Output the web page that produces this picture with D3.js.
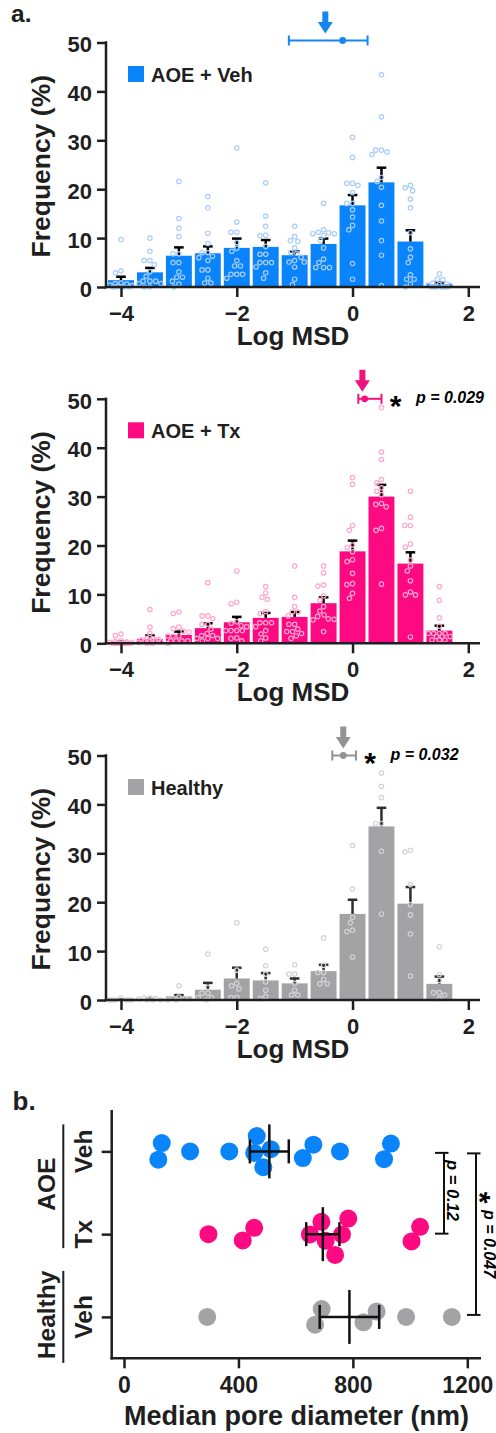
<!DOCTYPE html>
<html><head><meta charset="utf-8">
<script src="https://cdn.jsdelivr.net/npm/d3@7"></script>
<style>
html,body{margin:0;padding:0;background:#fff;}
svg{display:block;}
</style></head><body>
<svg id="chart" width="496" height="1433"></svg>
<script>
// ---------------- DATA ----------------
const binCenters = [-4,-3.5,-3,-2.5,-2,-1.5,-1,-0.5,0,0.5,1,1.5];
const xTicksA = [-4,-2,0,2];
const yTicksA = [0,10,20,30,40,50];
const seriesNames = ["AOE + Veh","AOE + Tx","Healthy"];

const vehMeans = [1.4,3.0,6.4,6.9,8.0,8.2,6.5,8.8,16.7,21.4,9.3,0.6];
const vehSem   = [0.7,0.9,1.7,1.4,1.9,1.4,0.8,1.1,2.1,3.0,2.3,0.3];
const vehDots = [
  [9.7,3.3,2.9,0.8,0.7,0.6,0.4,0.3,0.2,0,0,0,0,0],
  [10.0,7.3,5.4,5.4,4.6,3.1,2.2,1.2,1.2,1.2,0.7,0.7,0,0],
  [21.6,14.0,12.0,10.3,6.8,6.8,5.0,5.0,3.1,2.0,2.0,1.2,0.6,0],
  [18.5,16.2,11.0,8.9,7.0,7.0,6.3,6.0,5.4,3.5,3.5,1.8,0.8,0.8],
  [28.4,13.3,11.2,11.2,9.1,7.9,7.3,5.4,4.3,4.3,2.6,2.6,2.6,1.8],
  [21.3,14.5,12.4,10.6,10.5,8.3,6.7,6.7,5.0,5.0,5.0,4.1,2.9,1.8],
  [12.4,10.3,9.5,9.3,8.0,7.1,6.9,6.1,5.4,5.1,5.1,4.1,1.6,0.5],
  [17.1,11.7,11.2,11.1,10.9,10.9,10.5,9.5,8.0,5.7,5.0,4.0,4.0,4.0],
  [30.6,26.5,21.2,21.2,20.8,19.3,17.1,17.1,15.8,14.3,12.6,11.7,4.8,1.6],
  [43.4,34.8,28.0,28.0,27.6,27.1,22.4,21.6,20.4,16.7,13.5,9.5,6.5,0.3],
  [20.8,20.3,19.7,18.0,16.2,11.1,7.8,6.1,5.0,2.5,1.6,1.6,0.6,0],
  [2.7,1.6,1.5,0.8,0.6,0.5,0.4,0.3,0,0,0,0,0,0]
];

const txMeans = [0.2,0.9,1.7,3.1,4.3,5.2,5.4,8.2,18.8,30.0,16.3,2.6];
const txSem   = [0.15,0.7,0.7,1.0,1.1,1.0,1.0,1.2,2.2,2.4,2.3,1.0];
const txDots = [
  [1.9,1.6,0.5,0.4,0.3,0.2,0.1,0,0,0,0,0,0,0],
  [6.9,3.3,2.0,1.0,0.9,0.8,0.7,0.6,0.5,0.4,0.3,0.2,0,0],
  [6.4,6.1,3.3,3.0,2.5,2.3,1.5,1.5,1.5,0.5,0.5,0.5,0.5,0],
  [12.4,5.6,5.6,5.0,3.9,3.9,2.9,2.0,1.6,1.6,1.0,1.0,1.0,0.5],
  [14.8,8.4,8.1,4.4,4.1,3.6,3.4,2.6,2.6,2.6,2.6,1.1,1.0,0.5],
  [11.6,10.3,9.4,9.0,6.5,6.1,4.2,4.2,4.2,3.4,2.6,1.9,1.1,0.5],
  [15.8,9.4,7.5,6.4,6.4,5.6,3.9,3.9,2.9,2.4,2.4,2.0,1.5,1.0],
  [15.8,14.4,11.9,11.7,9.7,8.8,7.5,6.6,5.8,5.5,5.0,4.9,4.8,2.4],
  [33.9,32.5,24.1,23.1,20.1,19.6,18.7,17.1,16.7,14.3,12.2,12.0,10.2,9.2],
  [48.2,39.1,37.6,33.5,32.8,31.8,31.1,30.4,28.6,28.4,27.9,23.5,23.1,12.1],
  [31.1,25.8,24.1,24.1,20.3,19.7,17.0,15.8,14.8,12.8,10.5,9.9,9.9,1.3],
  [11.6,8.8,5.2,3.5,2.0,2.0,2.0,2.0,1.4,1.4,1.4,0.7,0.7,0.7]
];

const healthyMeans = [0.05,0.15,0.75,2.1,4.4,4.0,3.4,5.9,17.6,35.5,19.7,3.3];
const healthySem   = [0.05,0.1,0.25,1.4,2.2,1.5,1.0,1.3,2.9,3.8,3.4,1.5];
const healthyDots = [
  [0.4,0,0,0,0,0,0],
  [0.4,0.4,0.3,0.2,0,0,0],
  [2.9,0.6,0.4,0.3,0.3,0,0],
  [9.4,2.6,1.4,1.4,0.5,0.5,0],
  [15.8,6.1,3.4,2.9,2.3,0.5,0.5],
  [10.4,7.0,5.3,3.7,2.0,0.7,0.3],
  [7.2,5.3,5.3,3.4,2.0,1.0,1.0],
  [12.7,7.1,5.6,5.6,4.2,3.3,3.3],
  [31.6,22.7,16.9,15.8,14.3,14.0,8.8],
  [46.4,43.7,41.4,36.1,36.1,30.4,17.6],
  [30.6,30.3,23.6,19.5,17.4,13.5,4.9],
  [10.9,5.2,4.0,1.5,1.5,1.0,0.3]
];

// median log MSD markers (mean, low, high) and arrow positions
const markerMean = [-0.17, 0.21, -0.16];
const markerLow  = [-1.10, 0.10, -0.35];
const markerHigh = [0.26, 0.50, 0.06];
const arrowPos   = [-0.47, 0.17, -0.16];
const pLabelsA   = [null, "p = 0.029", "p = 0.032"];

// panel b
const bGroups = ["AOE","AOE","Healthy"];
const bTreatments = ["Veh","Tx","Veh"];
const bDots = [
  [120,132,231,368,455,464,487,513,625,662,755,909,933],
  [295,415,455,650,690,705,738,762,784,1005,1035],
  [291,668,691,837,883,986,1146]
];
const bMeans = [508,695,788];
const bSem = [68,58,104];
const xTicksB = [0,400,800,1200];
const bPLabels = ["p = 0.12","p = 0.047"];

// ---------------- STYLE ----------------
const FONT = '"Liberation Sans", Arial, Helvetica, sans-serif';
const INK = '#1f1f1f';
const barColors = ['#0a84fb','#fd0a83','#a3a3a6'];
const dotColors = ['#a8cdf8','#ffa6cf','#d3d3d5'];
const markColors = ['#1785f0','#f0117e','#939396'];
const errColors = ['#000','#000','#2d2d2d'];

const svg = d3.select('#chart').attr('font-family', FONT);

function swarm(pix, D, maxOff, center) {
  const n = pix.length;
  const order = d3.range(n).sort((a,b)=>pix[a]-pix[b]);
  const off = new Array(n).fill(0);
  const placed = [];
  for (const i of order) {
    const p = pix[i];
    const iv = [];
    for (const j of placed) {
      const d = Math.abs(pix[j]-p);
      if (d < D) { const w = Math.sqrt(D*D-d*d); iv.push([off[j]-w, off[j]+w]); }
    }
    const cands = [0];
    iv.forEach(([a,b]) => cands.push(a,b));
    const valid = cands.filter(c => Math.abs(c) <= maxOff+1e-6 &&
      iv.every(([a,b]) => c <= a+1e-6 || c >= b-1e-6));
    let best = 0;
    if (valid.length) {
      best = valid.sort((a,b)=>Math.abs(a)-Math.abs(b) || a-b)[0];
    } else {
      let bestScore = -1;
      for (let c=-maxOff; c<=maxOff+1e-6; c+=maxOff/4) {
        let m = Infinity;
        placed.forEach(j => { m = Math.min(m, Math.hypot(off[j]-c, pix[j]-p)); });
        if (m > bestScore) { bestScore = m; best = c; }
      }
    }
    off[i] = best; placed.push(i);
  }
  if (center) {
    const parent = d3.range(n);
    const find = k => parent[k]===k ? k : (parent[k]=find(parent[k]));
    for (let a=0;a<n;a++) for (let b=a+1;b<n;b++)
      if (Math.hypot(off[a]-off[b], pix[a]-pix[b]) < D+1) parent[find(a)] = find(b);
    const groups = d3.group(d3.range(n), k=>find(k));
    groups.forEach(ids => {
      const m = d3.mean(ids, k=>off[k]);
      ids.forEach(k => off[k] -= m);
    });
  }
  return off;
}

// ---------------- PANEL A ----------------
const xA = d3.scaleLinear().domain([-4,2]).range([121,468.3]);
const zeroYs = [287, 643.3, 1000];
const barW = xA(0.5) - xA(0) - 3;
const allMeans = [vehMeans, txMeans, healthyMeans];
const allSem = [vehSem, txSem, healthySem];
const allDots = [vehDots, txDots, healthyDots];

svg.append('text').attr('x',11).attr('y',22.3).attr('font-size',24.5).attr('font-weight','bold')
  .attr('fill',INK).text('a.');

seriesNames.forEach((name, si) => {
  const y0 = zeroYs[si];
  const y = d3.scaleLinear().domain([0,50]).range([y0, y0-244.5]);
  const g = svg.append('g');

  g.selectAll('rect.bar').data(binCenters).join('rect')
    .attr('x', c => xA(c)-barW/2).attr('width', barW)
    .attr('y', (c,i) => y(allMeans[si][i]))
    .attr('height', (c,i) => y(0)-y(allMeans[si][i]))
    .attr('fill', barColors[si]);

  const eg = g.append('g').attr('stroke', errColors[si]).attr('stroke-width',2.5);
  binCenters.forEach((c,i) => {
    const m = allMeans[si][i], s = allSem[si][i];
    eg.append('line').attr('x1',xA(c)).attr('x2',xA(c)).attr('y1',y(m)).attr('y2',y(m+s));
    eg.append('line').attr('x1',xA(c)-4.8).attr('x2',xA(c)+4.8).attr('y1',y(m+s)).attr('y2',y(m+s));
  });

  const dg = g.append('g').attr('fill','none').attr('stroke',dotColors[si]).attr('stroke-width',1.2);
  binCenters.forEach((c,i) => {
    const vals = allDots[si][i];
    const pix = vals.map(v => y(v));
    const off = swarm(pix, 5.8, 11, false);
    vals.forEach((v,k) => {
      dg.append('circle').attr('cx', xA(c)+off[k]).attr('cy', pix[k]).attr('r',2.2);
    });
  });

  const ay = g.append('g').attr('transform','translate(106,0)')
    .call(d3.axisLeft(y).tickValues(yTicksA).tickSize(9).tickPadding(5).tickFormat(d3.format('d')));
  const ax = g.append('g').attr('transform',`translate(0,${y0})`)
    .call(d3.axisBottom(xA).tickValues(xTicksA).tickSize(10).tickPadding(8).tickFormat(d3.format('d')));
  [ay, ax].forEach(a => {
    a.select('.domain').remove();
    a.selectAll('line').attr('stroke',INK).attr('stroke-width',2.5);
    a.selectAll('text').attr('fill',INK).attr('font-size',22).attr('font-weight','bold')
      .attr('font-family',FONT);
  });
  ay.selectAll('text').attr('dy','0.42em');
  g.append('line').attr('x1',106).attr('x2',106).attr('y1',y(50)-1.25).attr('y2',y0+1.25)
    .attr('stroke',INK).attr('stroke-width',2.5);
  g.append('line').attr('x1',104.75).attr('x2',480).attr('y1',y0).attr('y2',y0)
    .attr('stroke',INK).attr('stroke-width',2.5);

  g.append('text').attr('x',293).attr('y',y0+58).attr('text-anchor','middle')
    .attr('font-size',26).attr('font-weight','bold').attr('fill',INK).text('Log MSD');
  g.append('text').attr('transform',`translate(50,${(y(0)+y(50))/2+1.5}) rotate(-90)`)
    .attr('text-anchor','middle').attr('font-size',26.5).attr('font-weight','bold')
    .attr('fill',INK).text('Frequency (%)');

  g.append('rect').attr('x',128).attr('y',y(50)+23.5).attr('width',16).attr('height',16)
    .attr('fill',barColors[si]);
  g.append('text').attr('x',151).attr('y',y(50)+39.5).attr('font-size',20)
    .attr('font-weight','bold').attr('fill',INK).text(name);

  const my = y(50) - (si===0 ? 2 : 0);
  const mc = markColors[si];
  const mg = g.append('g').attr('stroke',mc).attr('stroke-width',2);
  mg.append('line').attr('x1',xA(markerLow[si])).attr('x2',xA(markerHigh[si])).attr('y1',my).attr('y2',my);
  [markerLow[si], markerHigh[si]].forEach(v => {
    mg.append('line').attr('x1',xA(v)).attr('x2',xA(v)).attr('y1',my-5).attr('y2',my+5);
  });
  g.append('circle').attr('cx',xA(markerMean[si])).attr('cy',my).attr('r',3.4).attr('fill',mc);
  const ax0 = xA(arrowPos[si]), tip = my-7;
  g.append('path').attr('fill',mc).attr('d',
    `M${ax0-3},${tip-22} L${ax0+3},${tip-22} L${ax0+3},${tip-11.5} L${ax0+7.5},${tip-11.5} L${ax0},${tip} L${ax0-7.5},${tip-11.5} L${ax0-3},${tip-11.5} Z`);
  if (pLabelsA[si]) {
    const sx = xA(markerHigh[si]) + 14;
    g.append('text').attr('x',sx).attr('y',my+17).attr('text-anchor','middle')
      .attr('font-size',30).attr('font-weight','bold').attr('fill','#000').text('*');
    g.append('text').attr('x',sx+20.5).attr('y',my+4.5).attr('font-size',16)
      .attr('font-weight','bold').attr('font-style','italic').attr('fill','#000').text(pLabelsA[si]);
  }
});

// ---------------- PANEL B ----------------
svg.append('text').attr('x',12.5).attr('y',1110).attr('font-size',26).attr('font-weight','bold')
  .attr('fill',INK).text('b.');

const xB = d3.scaleLinear().domain([0,1200]).range([124,467.3]);
const yB = d3.scalePoint().domain(d3.range(bGroups.length)).range([1110,1358.3]).padding(0.5);
const gb = svg.append('g');

const axB = gb.append('g').attr('transform','translate(0,1358.3)')
  .call(d3.axisBottom(xB).tickValues(xTicksB).tickSize(10).tickPadding(8.5).tickFormat(d3.format('d')));
axB.select('.domain').remove();
axB.selectAll('line').attr('stroke',INK).attr('stroke-width',2.5);
axB.selectAll('text').attr('fill',INK).attr('font-size',23).attr('font-weight','bold').attr('font-family',FONT);
const ayB = gb.append('g').attr('transform','translate(111.7,0)')
  .call(d3.axisLeft(yB).tickSize(10).tickFormat(''));
ayB.select('.domain').remove();
ayB.selectAll('line').attr('stroke',INK).attr('stroke-width',2.5);
gb.append('line').attr('x1',111.7).attr('x2',111.7).attr('y1',1110).attr('y2',1359.5)
  .attr('stroke',INK).attr('stroke-width',2.5);
gb.append('line').attr('x1',110.5).attr('x2',481).attr('y1',1358.3).attr('y2',1358.3)
  .attr('stroke',INK).attr('stroke-width',2.5);

gb.append('text').attr('x',296.5).attr('y',1425).attr('text-anchor','middle')
  .attr('font-size',27).attr('font-weight','bold').attr('fill',INK).text('Median pore diameter (nm)');

bTreatments.forEach((t,i) => {
  gb.append('text').attr('transform',`translate(91.5,${yB(i)}) rotate(-90)`)
    .attr('text-anchor','middle').attr('font-size',24.5).attr('font-weight','bold')
    .attr('fill',INK).text(t);
});
const groupSpans = d3.groups(d3.range(bGroups.length), i=>bGroups[i]);
groupSpans.forEach(([name, ids]) => {
  const t0 = ids.length===1 ? yB(ids[0]) - 46 : yB(ids[0]) - 27;
  const b0 = ids.length===1 ? yB(ids[0]) + 46 : yB(ids[ids.length-1]) + 14;
  gb.append('line').attr('x1',63.3).attr('x2',63.3).attr('y1',t0).attr('y2',b0)
    .attr('stroke',INK).attr('stroke-width',2);
  gb.append('text').attr('transform',`translate(55,${(t0+b0)/2 - 2}) rotate(-90)`)
    .attr('text-anchor','middle').attr('font-size',24.5).attr('font-weight','bold')
    .attr('fill',INK).text(name);
});

bDots.forEach((vals,i) => {
  const pix = vals.map(v => xB(v));
  const off = swarm(pix, 17, 30, true);
  gb.append('g').selectAll('circle').data(vals).join('circle')
    .attr('cx', (v,k) => pix[k]).attr('cy', (v,k) => yB(i)+off[k]).attr('r',9)
    .attr('fill', barColors[i]);
});
bMeans.forEach((m,i) => {
  const yc = yB(i), s = bSem[i];
  const mg = gb.append('g').attr('stroke','#111').attr('stroke-width',2.5);
  mg.append('line').attr('x1',xB(m)).attr('x2',xB(m)).attr('y1',yc-27).attr('y2',yc+27);
  mg.append('line').attr('x1',xB(m-s)).attr('x2',xB(m+s)).attr('y1',yc).attr('y2',yc);
  [m-s, m+s].forEach(v => mg.append('line').attr('x1',xB(v)).attr('x2',xB(v)).attr('y1',yc-12).attr('y2',yc+12));
});

function bracket(x, ya, yb2) {
  const bg = gb.append('g').attr('stroke','#111').attr('stroke-width',2);
  bg.append('line').attr('x1',x).attr('x2',x).attr('y1',ya).attr('y2',yb2);
  [ya,yb2].forEach(yy => bg.append('line').attr('x1',x-9).attr('x2',x+4.5).attr('y1',yy).attr('y2',yy));
}
bracket(444, yB(0)+1.5, yB(1)-0.5);
bracket(476, yB(0)+2, yB(2)-2);
gb.append('text').attr('transform',`translate(447,1160) rotate(90)`)
  .attr('font-size',16.5).attr('font-weight','bold').attr('font-style','italic').attr('fill','#000')
  .text(bPLabels[0]);
gb.append('text').attr('transform',`translate(470,1197.5) rotate(90)`).attr('text-anchor','middle')
  .attr('font-size',30).attr('font-weight','bold').attr('fill','#000').text('*');
gb.append('text').attr('transform',`translate(483.5,1210) rotate(90)`)
  .attr('font-size',16).attr('font-weight','bold').attr('font-style','italic').attr('fill','#000')
  .text(bPLabels[1]);
</script>
</body></html>
